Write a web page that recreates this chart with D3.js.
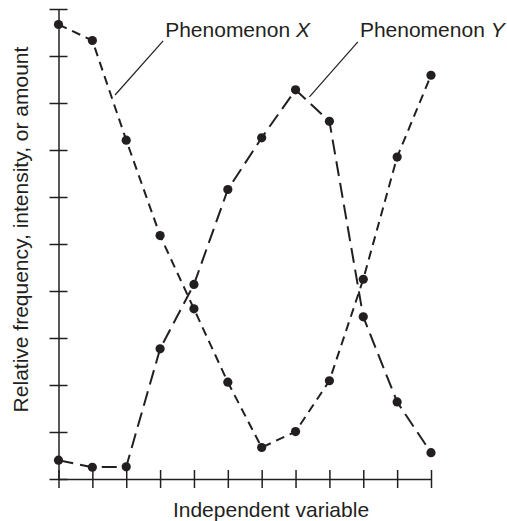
<!DOCTYPE html>
<html>
<head>
<meta charset="utf-8">
<script src="https://cdn.jsdelivr.net/npm/d3@7"></script>
<style>
  body { margin: 0; background: #fff; }
  text { font-family: "Liberation Sans", Arial, Helvetica, sans-serif; fill: #231f20; }
  .axis path, .axis line { stroke: #231f20; stroke-width: 1.5; }
</style>
</head>
<body>
<div id="chart"></div>
<script>
// data (values on a 0-10 scale)
var steps = [0, 1, 2, 3, 4, 5, 6, 7, 8, 9, 10, 11];
var phenomenonX = [9.67, 9.33, 7.21, 5.18, 3.62, 2.06, 0.67, 1.01, 2.09, 4.25, 6.85, 8.59];
var phenomenonY = [0.40, 0.25, 0.26, 2.77, 4.14, 6.16, 7.26, 8.28, 7.61, 3.45, 1.64, 0.56];
var yTicks = [0, 1, 2, 3, 4, 5, 6, 7, 8, 9, 10];
var seriesNames = ["Phenomenon ", "Phenomenon "];
var seriesLetters = ["X", "Y"];
var xTitle = "Independent variable";
var yTitle = "Relative frequency, intensity, or amount";

// set the dimensions
var width = 507, height = 521;
var ink = "#231f20";

var svg = d3.select("#chart").append("svg")
    .attr("width", width)
    .attr("height", height);

var x = d3.scaleLinear().domain([0, 11]).range([58.5, 431]);
var y = d3.scaleLinear().domain([0, 10]).range([479, 9]);

// x axis, ticks cross the line
var xAxis = svg.append("g")
    .attr("class", "axis")
    .attr("transform", "translate(0," + y(0) + ")")
    .call(d3.axisBottom(x).tickValues(steps).tickSizeInner(9).tickSizeOuter(0).tickFormat(""));
xAxis.selectAll(".tick line").attr("y1", -9);

// y axis
var yAxis = svg.append("g")
    .attr("class", "axis")
    .attr("transform", "translate(" + x(0) + ",0)")
    .call(d3.axisLeft(y).tickValues(yTicks).tickSizeInner(9).tickSizeOuter(0).tickFormat(""));
yAxis.selectAll(".tick line").attr("x1", 9);

// the two series
var series = [
  { values: phenomenonX, dash: "9,6" },
  { values: phenomenonY, dash: "15,7" }
];

var line = d3.line()
    .x(function(d, i) { return x(steps[i]); })
    .y(function(d) { return y(d); });

series.forEach(function(s) {
  svg.append("path")
      .datum(s.values)
      .attr("d", line)
      .attr("fill", "none")
      .attr("stroke", ink)
      .attr("stroke-width", 2)
      .attr("stroke-dasharray", s.dash);

  svg.append("g").selectAll("circle")
    .data(s.values)
    .enter().append("circle")
      .attr("cx", function(d, i) { return x(steps[i]); })
      .attr("cy", function(d) { return y(d); })
      .attr("r", 4.6)
      .attr("fill", ink);
});

// labels with leader lines (anchors in data units)
var notes = [
  { tx: 3.15, ty: 9.41, x1: 3.09, y1: 9.32, x2: 1.67, y2: 8.17 },
  { tx: 8.90, ty: 9.41, x1: 8.84, y1: 9.30, x2: 7.41, y2: 8.13 }
];

notes.forEach(function(n, i) {
  svg.append("line")
      .attr("x1", x(n.x1)).attr("y1", y(n.y1))
      .attr("x2", x(n.x2)).attr("y2", y(n.y2))
      .attr("stroke", ink)
      .attr("stroke-width", 1.2);

  var t = svg.append("text")
      .attr("x", x(n.tx))
      .attr("y", y(n.ty))
      .attr("font-size", 21);
  t.append("tspan").text(seriesNames[i]);
  t.append("tspan").attr("font-style", "italic").text(seriesLetters[i]);
});

// axis titles
svg.append("text")
    .attr("x", 271)
    .attr("y", 516.5)
    .attr("text-anchor", "middle")
    .attr("font-size", 21)
    .text(xTitle);

svg.append("text")
    .attr("transform", "translate(28,229.5) rotate(-90)")
    .attr("text-anchor", "middle")
    .attr("font-size", 21)
    .text(yTitle);
</script>
</body>
</html>
